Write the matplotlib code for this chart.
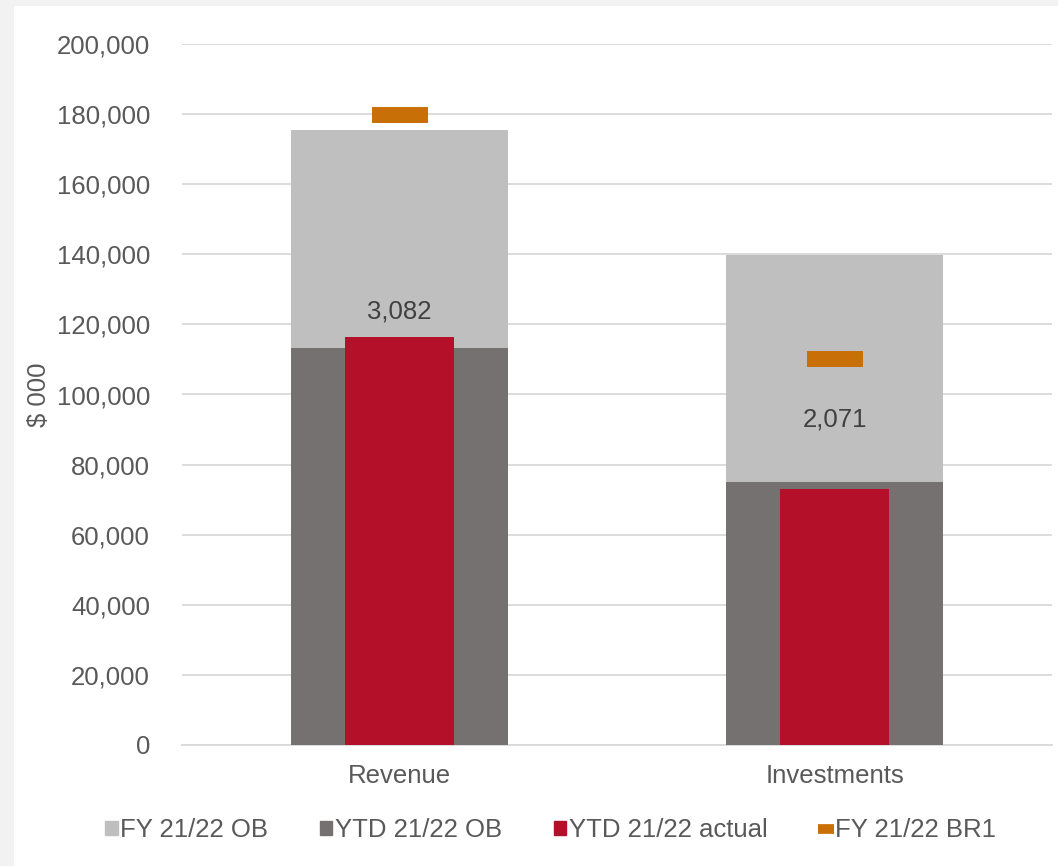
import matplotlib.pyplot as plt
from matplotlib.lines import Line2D
from matplotlib.markers import MarkerStyle
from matplotlib.patches import Rectangle, Patch
from matplotlib.ticker import FuncFormatter

# values in $000
categories = ['Revenue', 'Investments']
fy_ob = [175400, 139800]
ytd_ob = [113300, 75000]
ytd_actual = [116400, 72900]
fy_br1 = [179800, 110000]
var_labels = ['3,082', '2,071']
var_label_y = [123800, 92800]

plt.rcParams['font.family'] = ['Liberation Sans', 'DejaVu Sans']

fig = plt.figure(figsize=(10.58, 8.66), dpi=100, facecolor='#f2f2f2')
# white chart area inside the grey frame
fig.patches.append(Rectangle((14 / 1058, 0), 1, 1 - 6 / 866, transform=fig.transFigure,
                             facecolor='white', edgecolor='none', zorder=-5))

ax = fig.add_axes([182 / 1058, 1 - 745 / 866, 870 / 1058, 701 / 866])
ax.set_facecolor('none')

x = list(range(len(categories)))
ax.bar(x, fy_ob, width=0.5, color='#bfbfbf', zorder=2, label='FY 21/22 OB')
ax.bar(x, ytd_ob, width=0.5, color='#767171', zorder=3, label='YTD 21/22 OB')
ax.bar(x, ytd_actual, width=0.25, color='#b5102a', zorder=4, label='YTD 21/22 actual')

dash = MarkerStyle('_', capstyle='butt')
ax.plot(x, fy_br1, linestyle='none', marker=dash, markersize=41, markeredgewidth=11.5,
        color='#c96f08', zorder=5)

for i, txt in enumerate(var_labels):
    ax.text(x[i], var_label_y[i], txt, ha='center', va='center', fontsize=18.5,
            color='#404040', zorder=6)

ax.set_xlim(-0.5, 1.5)
ax.set_ylim(0, 200000)
ax.set_yticks(range(0, 200001, 20000))
ax.yaxis.set_major_formatter(FuncFormatter(lambda v, p: f'{int(v):,}'))
ax.set_xticks(x)
ax.set_xticklabels(categories)
ax.tick_params(axis='both', length=0, labelsize=18.5, labelcolor='#595959')
ax.tick_params(axis='y', pad=23)
ax.tick_params(axis='x', pad=14)
ax.grid(axis='y', color='#d9d9d9', linewidth=1.3, zorder=1)
ax.set_axisbelow(True)
for s in ['top', 'right', 'left']:
    ax.spines[s].set_visible(False)
ax.spines['bottom'].set_color('#d9d9d9')
ax.spines['bottom'].set_linewidth(1.3)

ax.set_ylabel('$ 000', fontsize=18.5, color='#595959')
ax.yaxis.set_label_coords(-0.15, 0.5)

handles = [
    Patch(color='#bfbfbf', label='FY 21/22 OB'),
    Patch(color='#767171', label='YTD 21/22 OB'),
    Patch(color='#b5102a', label='YTD 21/22 actual'),
    Line2D([], [], linestyle='none', marker=dash, markersize=12, markeredgewidth=7,
           color='#c96f08', label='FY 21/22 BR1'),
]
leg = fig.legend(handles=handles, loc='center', bbox_to_anchor=(0.52, 1 - 830 / 866), ncol=4,
                 frameon=False, fontsize=18.5, handlelength=0.5, handleheight=0.5,
                 handletextpad=0.1, columnspacing=2.0, labelcolor='#595959')

fig.savefig('out.png', dpi=100, facecolor=fig.get_facecolor())
